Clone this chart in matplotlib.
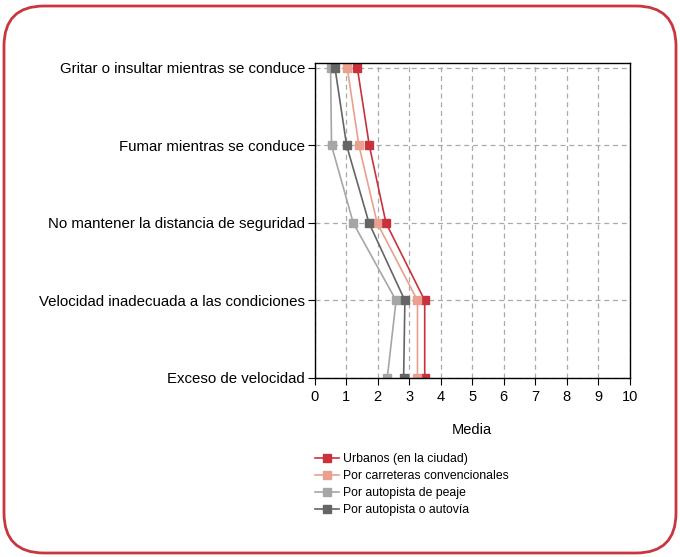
import matplotlib
matplotlib.use("Agg")
import matplotlib.pyplot as plt
from matplotlib.patches import FancyBboxPatch
from matplotlib.transforms import IdentityTransform

plt.rcParams['font.family'] = ['Liberation Sans', 'DejaVu Sans']

categories = ["Exceso de velocidad",
              "Velocidad inadecuada a las condiciones",
              "No mantener la distancia de seguridad",
              "Fumar mientras se conduce",
              "Gritar o insultar mientras se conduce"]

series_names = ["Urbanos (en la ciudad)",
                "Por carreteras convencionales",
                "Por autopista de peaje",
                "Por autopista o autovía"]

urbanos = [3.49, 3.49, 2.26, 1.73, 1.35]
convencionales = [3.26, 3.26, 1.98, 1.40, 1.03]
peaje = [2.30, 2.58, 1.22, 0.53, 0.50]
autovia = [2.82, 2.86, 1.72, 1.01, 0.64]

colors = ["#c8323c", "#e9a08e", "#a6a6a6", "#656565"]

fig = plt.figure(figsize=(6.8, 5.57), dpi=100)
ax = fig.add_axes([0.463, 0.3214, 0.463, 0.5656])

y = list(range(len(categories)))
for vals, name, c in zip([urbanos, convencionales, peaje, autovia], series_names, colors):
    ax.plot(vals, y, '-s', color=c, markersize=6, linewidth=1.2, label=name)

ax.set_xlim(0, 10)
ax.set_ylim(0, 4.065)
ax.set_xticks(range(0, 11))
ax.set_yticks(y)
ax.set_yticklabels(categories, fontsize=10.8)
ax.tick_params(axis='x', labelsize=10.5, length=5, direction='out')
ax.tick_params(axis='y', length=5, direction='out', pad=2)
ax.grid(True, linestyle=(0, (4, 3)), color='#aaaaaa', linewidth=0.9)
ax.set_axisbelow(True)
for s in ax.spines.values():
    s.set_linewidth(1.0)

ax.set_xlabel("Media", fontsize=10.5, labelpad=14)

leg = ax.legend(loc='upper left', bbox_to_anchor=(-0.015, -0.222), frameon=False,
                fontsize=8.8, handlelength=2.0, handletextpad=0.3, labelspacing=0.42,
                borderaxespad=0)

box = FancyBboxPatch((4, 4), 672, 547, boxstyle="round,pad=0,rounding_size=40",
                     transform=IdentityTransform(), facecolor='none',
                     edgecolor='#c8373f', linewidth=2)
fig.add_artist(box)

fig.savefig("out.png", dpi=100)
